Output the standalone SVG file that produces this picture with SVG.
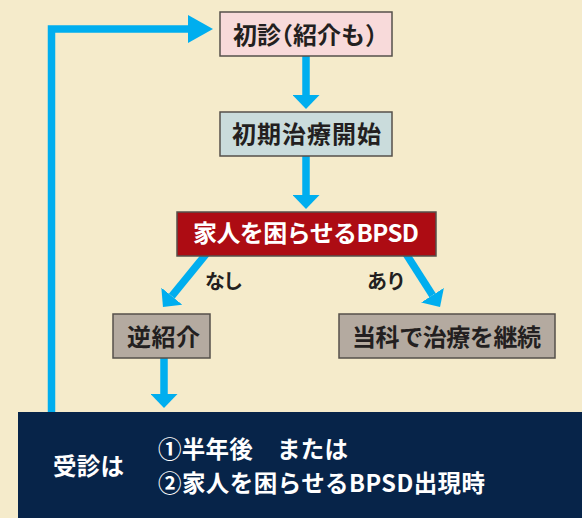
<svg xmlns="http://www.w3.org/2000/svg" width="582" height="518" viewBox="0 0 582 518">
<style>
.bg{fill:#F5EBCB}
.box{stroke:#55504B;stroke-width:1.5}
.conn{fill:none;stroke:#00AEEF;stroke-width:7.5;stroke-linejoin:miter}
.t{font-family:"Noto Sans CJK JP","Noto Sans CJK SC",sans-serif;font-weight:700;font-size:24px;fill:#231F20}
.w{fill:#FFFFFF}
.lbl{font-size:20px}
.dk{font-size:23.5px}
</style>
<defs>
<marker id="ah" markerUnits="userSpaceOnUse" viewBox="0 -13.5 14 27" markerWidth="14" markerHeight="27" refX="0" refY="0" orient="auto">
<path d="M0,-13.5 L14,0 L0,13.5 Z" fill="#00AEEF"/>
</marker>
<marker id="ahL" markerUnits="userSpaceOnUse" viewBox="0 -14 25 28" markerWidth="25" markerHeight="28" refX="0" refY="0" orient="auto">
<path d="M0,-14 L25,0 L0,14 Z" fill="#00AEEF"/>
</marker>
</defs>
<rect class="bg" x="0" y="0" width="582" height="518"/>
<g id="connectors">
<path class="conn" d="M51.5,416 V29 H188" marker-end="url(#ahL)"/>
<path class="conn" d="M306,56 V95" marker-end="url(#ah)"/>
<path class="conn" d="M306,156 V195" marker-end="url(#ah)"/>
<path class="conn" d="M209.4,250 L171.8,296.1" marker-end="url(#ah)"/>
<path class="conn" d="M403.6,250 L432.5,295.2" marker-end="url(#ah)"/>
<path class="conn" d="M164,358 V394" marker-end="url(#ah)"/>
</g>
<g id="node-shoshin">
<rect class="box" x="220" y="12" width="172" height="44" fill="#F8DADA"/>
<text class="t" x="233" y="43.5" dx="0 0 -12 0 0 0 0">初診（紹介も）</text>
</g>
<g id="node-shoki">
<rect class="box" x="220" y="112" width="172" height="44" fill="#CADCDC"/>
<text class="t" x="232" y="143" textLength="149" lengthAdjust="spacing">初期治療開始</text>
</g>
<g id="node-bpsd">
<rect class="box" x="177" y="212" width="259" height="44" fill="#AD0C13"/>
<text class="t w" x="193" y="242" textLength="226" lengthAdjust="spacing">家人を困らせるBPSD</text>
</g>
<g id="label-nashi">
<text class="t lbl" x="205" y="289" textLength="38" lengthAdjust="spacing">なし</text>
</g>
<g id="label-ari">
<text class="t lbl" x="367" y="289" textLength="39" lengthAdjust="spacing">あり</text>
</g>
<g id="node-gyaku">
<rect class="box" x="113" y="314" width="97" height="44" fill="#B4AAA0"/>
<text class="t" x="127" y="345.5" textLength="73" lengthAdjust="spacing">逆紹介</text>
</g>
<g id="node-keizoku">
<rect class="box" x="339" y="314" width="216" height="44" fill="#B4AAA0"/>
<text class="t" x="352" y="345.5" textLength="189" lengthAdjust="spacing">当科で治療を継続</text>
</g>
<g id="node-jushin">
<rect x="18" y="412" width="564" height="106" fill="#072449"/>
<text class="t w dk" x="53" y="475" textLength="71" lengthAdjust="spacing">受診は</text>
<text class="t w dk" x="158" y="458" textLength="190" lengthAdjust="spacing">①半年後　または</text>
<text class="t w dk" x="158" y="492" textLength="327" lengthAdjust="spacing">②家人を困らせるBPSD出現時</text>
</g>
</svg>
